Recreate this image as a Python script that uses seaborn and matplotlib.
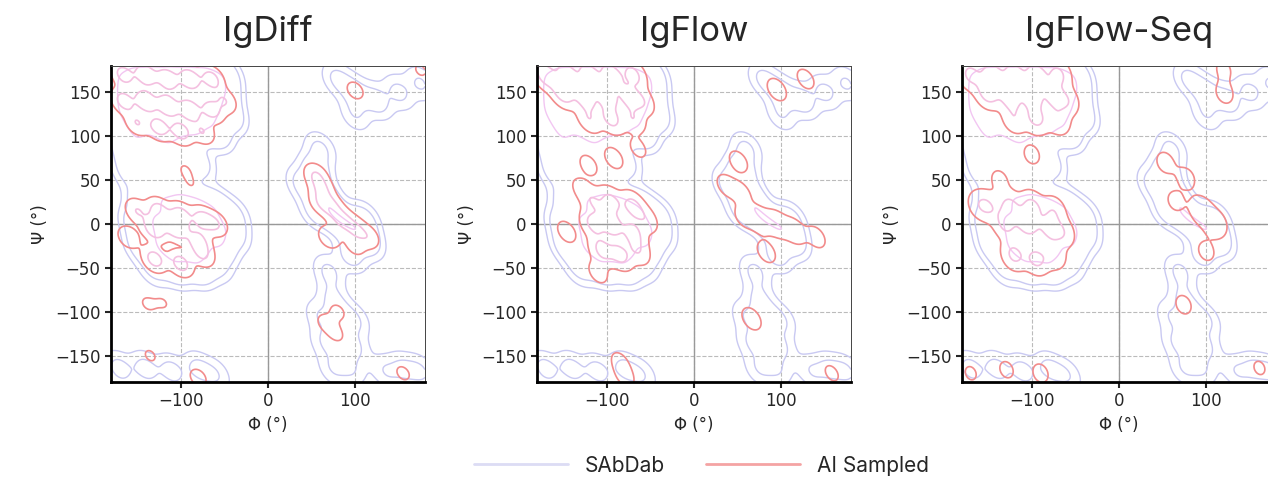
import numpy as np
import pandas as pd
import matplotlib.pyplot as plt
import seaborn as sns
from matplotlib.lines import Line2D

# Reference (SAbDab) backbone density, as weighted phi/psi samples
sabdab_phi = [-170, -150, -130, -110, -90, -70, -50,
              -170, -150, -130, -110, -90, -70, -50,
              -170, -150, -130, -110, -90, -70, -45,
              -165, -145, -125, -105, -85, -60,
              -165, -140, -120, -100, -80, -160, -130, -100, -150, -115,
              -145, -120, -100, -80, -60, -40,
              -150, -125, -100, -80, -60, -40,
              -145, -120, -100, -80, -55,
              -130, -105, -80, -60,
              40, 55, 65, 75, 90, 105, 115, 60, 55, 95, 70, 110,
              75, 60, 85, 100, 65, 85, 100, 75, 95,
              80, 100, 125, 150, 175, 100,
              -170, -140, -110, -80, -60, 135, 155, 175]
sabdab_psi = [170, 170, 170, 170, 170, 170, 170,
              150, 150, 150, 150, 150, 150, 150,
              130, 130, 130, 130, 130, 130, 125,
              110, 110, 110, 110, 110, 105,
              85, 80, 75, 75, 70, 60, 55, 55, 95, 95,
              25, 25, 25, 20, 20, 10,
              0, 0, 0, 0, -5, -10,
              -25, -25, -25, -25, -25,
              -50, -50, -50, -45,
              45, 60, 30, 10, 0, -10, -20, 85, 15, -35, -55, 5,
              -85, -105, -105, -110, -135, -135, -140, -165, -165,
              165, 150, 140, 150, 160, 125,
              -165, -165, -168, -165, -172, -168, -165, -168]
sabdab_w = [2, 3, 3, 3, 3, 3, 2,
            2, 3, 4, 4, 4, 3, 2,
            2, 3, 4, 4, 4, 3, 2,
            1.5, 2, 3, 3, 3, 2,
            1.2, 1.2, 1.2, 1.4, 1.3, 1.1, 1.2, 1.2, 1.3, 1.3,
            1.5, 2.5, 3, 3, 2, 1,
            1.5, 3, 4, 4, 3, 1.2,
            1.5, 3, 4, 3.5, 2,
            1, 2, 2, 1,
            1, 1.5, 2, 2, 2, 1.5, 1, 0.8, 1, 1, 0.8, 1,
            0.7, 0.6, 0.7, 0.6, 0.6, 0.7, 0.6, 0.6, 0.6,
            0.8, 1, 1, 0.8, 0.7, 0.6,
            0.9, 0.9, 0.9, 0.8, 0.6, 0.6, 0.7, 0.7]

# AI sampled densities per model
igdiff_phi = [-165, -140, -115, -90, -65, -165, -140, -115, -90, -65, -50,
              -150, -125, -100, -75, -150, -125, -100, -75, -60,
              -160, -130, -105, -80, -130, -100, -75,
              55, 62, 72, 85, 100, 115, 70, 60, 100,
              -95, -88, -138, -120, 65, 78, 80, -80, -135, 100, 155, 175]
igdiff_psi = [170, 170, 165, 165, 165, 140, 140, 135, 130, 130, 140,
              115, 110, 105, 105, 15, 15, 10, 5, 0,
              -15, -5, -5, -20, -40, -45, -35,
              55, 40, 20, 5, -5, -15, -15, 25, -25,
              62, 45, -91, -90, -112, -125, -100, -175, -150, 152, -170, 175]
igdiff_w = [3, 4, 4, 4, 3, 3, 4, 4, 4, 3, 2,
            2, 3, 3, 2, 2, 3, 3, 3, 2,
            1.5, 4, 4, 3, 3, 3, 2,
            2, 2, 2.5, 2.5, 2, 1.5, 1.5, 1.5, 1,
            0.6, 0.5, 0.7, 0.6, 0.8, 0.8, 0.8, 1, 0.7, 1, 0.8, 0.7]

igflow_phi = [-170, -145, -120, -95, -70, -150, -125, -100, -75, -60, -120, -95, -70, -92,
              -115, -95, -70, -55, -115, -95, -70, -105, -85, -65,
              -146, -110, -129, -121, -64,
              51, 37, 55, 57, 75, 95, 115, 140, 83, 66, 95, 128, 158, -85, -79]
igflow_psi = [170, 170, 170, 170, 170, 150, 145, 145, 145, 140, 120, 120, 120, 75,
              25, 25, 20, 5, 0, 0, -10, -30, -35, -30,
              -9, -55, 40, 67, 86,
              71, 44, 35, 8, 5, 0, -8, -15, -32, -108, 153, 165, -170, -157, -174]
igflow_w = [4, 4, 4, 4, 3, 4, 4, 4, 3, 2, 2, 3, 2, 1,
            2, 3, 3, 1.5, 3, 4, 3, 3, 3, 2,
            1, 1, 0.9, 0.9, 0.8,
            1, 1, 0.9, 0.9, 1.8, 1.8, 1.5, 1, 1, 1.1, 1.1, 0.9, 0.7, 0.8, 0.9]

igflowseq_phi = [-170, -145, -120, -95, -70, -150, -125, -100, -75, -60, -120, -95, -70,
                 -150, -125, -100, -75, -160, -130, -105, -80, -65, -120, -95, -75,
                 -100, -137, 53, 77, 65, 95, 110, 100, 74, 121, 120, 161, -129, -90, -170]
igflowseq_psi = [170, 170, 170, 170, 170, 150, 145, 145, 145, 140, 120, 120, 118,
                 20, 20, 20, 15, 22, 0, 0, -5, -10, -35, -40, -35,
                 79, 50, 70, 52, 26, 15, 0, -31, -92, 149, 176, -164, -166, -170, -170]
igflowseq_w = [3, 4, 4, 4, 3, 4, 4, 4, 3, 2, 2, 3, 2,
               2, 3, 3, 2, 1.5, 3, 4, 3, 2, 3, 3, 2,
               0.9, 0.9, 1, 1, 0.9, 2, 2, 0.9, 0.9, 1, 0.8, 0.7, 0.8, 0.9, 0.7]

titles = ['IgDiff', 'IgFlow', 'IgFlow-Seq']
ai_sets = [(igdiff_phi, igdiff_psi, igdiff_w),
           (igflow_phi, igflow_psi, igflow_w),
           (igflowseq_phi, igflowseq_psi, igflowseq_w)]

sabdab = pd.DataFrame({'phi': sabdab_phi, 'psi': sabdab_psi, 'w': sabdab_w})

sns.set_style('white')
plt.rcParams['font.family'] = ['DejaVu Sans']

ref_colors = ['#c9c9f2', '#c9c9f2', '#f2c6f2']
ai_colors = ['#f28b8b', '#f4c0e0']

fig = plt.figure(figsize=(12.68, 4.79), dpi=100)
lefts = [0.0875, 0.4235, 0.7587]
for i, (title, (ph, ps, ww)) in enumerate(zip(titles, ai_sets)):
    ax = fig.add_axes([lefts[i], 0.2025, 0.2476, 0.66])
    ai = pd.DataFrame({'phi': ph, 'psi': ps, 'w': ww})

    ax.grid(True, linestyle='--', color='#bbbbbb', linewidth=0.8)
    ax.axhline(0, color='#999999', linewidth=1.0, zorder=1)
    ax.axvline(0, color='#999999', linewidth=1.0, zorder=1)

    bw = 11.0 / np.sqrt(np.cov(sabdab['phi'], aweights=sabdab['w']))
    sns.kdeplot(data=sabdab, x='phi', y='psi', weights='w', ax=ax,
                levels=[0.015, 0.07, 0.45], colors=ref_colors, linewidths=1.0,
                bw_method=bw, clip=((-180, 180), (-180, 180)), gridsize=250)
    bw = 8.5 / np.sqrt(np.cov(ai['phi'], aweights=ai['w']))
    sns.kdeplot(data=ai, x='phi', y='psi', weights='w', ax=ax,
                levels=[0.1, 0.5], colors=ai_colors, linewidths=1.2,
                bw_method=bw, clip=((-180, 180), (-180, 180)), gridsize=250)

    ax.set_xlim(-180, 180)
    ax.set_ylim(-180, 180)
    ax.set_xticks([-100, 0, 100])
    ax.set_yticks([-150, -100, -50, 0, 50, 100, 150])
    ax.tick_params(labelsize=12, length=4, width=1.5, direction='out',
                   left=True, bottom=True)
    ax.set_xlabel('Φ (°)', fontsize=12)
    ax.set_ylabel('Ψ (°)', fontsize=12)
    ax.set_title(title, fontsize=25, family='Inter', pad=18)
    for s in ['left', 'bottom']:
        ax.spines[s].set_linewidth(2)
        ax.spines[s].set_color('black')
    for s in ['top', 'right']:
        ax.spines[s].set_linewidth(0.7)
        ax.spines[s].set_color('#444444')

handles = [Line2D([], [], color='#dcdcf4', linewidth=2),
           Line2D([], [], color='#f4a3a3', linewidth=2)]
fig.legend(handles, ['SAbDab', 'AI Sampled'], loc='center', ncol=2,
           bbox_to_anchor=(0.553, 0.028), frameon=False, handlelength=4.5,
           columnspacing=2.0, prop={'family': 'Inter', 'size': 15})

fig.savefig('out.png', dpi=100)
